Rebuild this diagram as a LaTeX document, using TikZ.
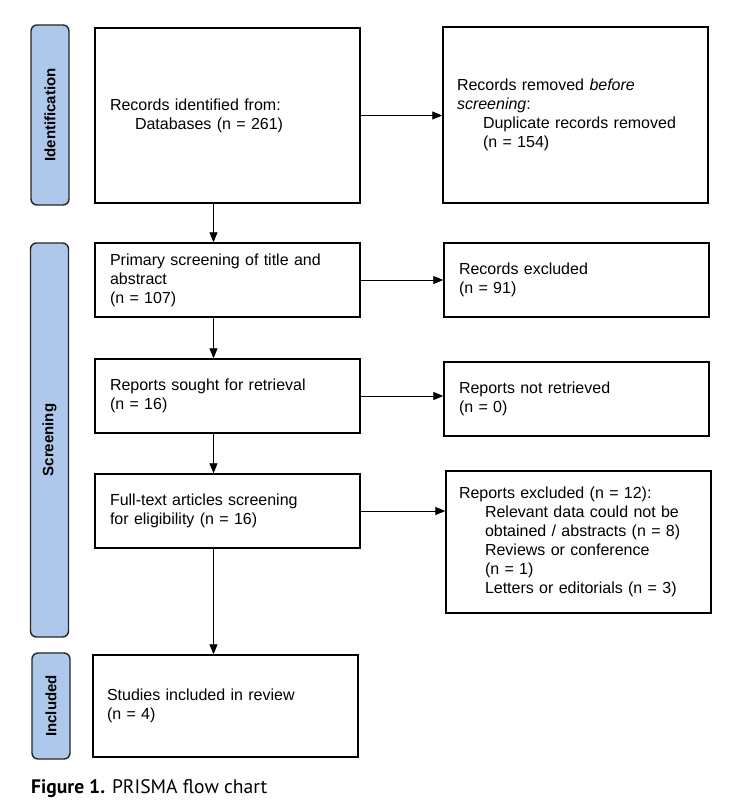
\documentclass[tikz,border=0pt]{standalone}
\usepackage{fontspec}
\setmainfont{Liberation Sans}
\newfontfamily\capfont{PT Sans}
\usetikzlibrary{arrows.meta}
\definecolor{barblue}{HTML}{AEC8EC}
\begin{document}
\begin{tikzpicture}[x=1pt,y=-1pt,
  box/.style={draw=black, line width=1.4pt, rectangle, inner xsep=15pt, inner ysep=0pt,
    minimum width=265pt, text width=235pt, align=left, font=\fontsize{16}{19}\selectfont},
  bar/.style={draw=black!85, line width=1.4pt, fill=barblue, rounded corners=6pt,
    minimum height=38pt, inner sep=0pt, rotate=90, font=\fontsize{15}{18}\selectfont\bfseries},
  arr/.style={-{Triangle[length=10pt,width=8pt]}, line width=0.8pt}]
\useasboundingbox (0,0) rectangle (739,800);
\fill[white] (0,0) rectangle (739,800);

% phase bars
\node[bar, minimum width=180pt] (pid) at (50,115) {Identification};
\node[bar, minimum width=394pt] (psc) at (49.5,440) {Screening};
\node[bar, minimum width=106pt] (pin) at (51,706) {Included};

% boxes
\node[box, minimum height=175pt] (b1) at (227.5,115.5)
  {Records identified from:\\\hspace*{25pt}Databases (n = 261)};
\node[box, minimum height=176pt, inner xsep=14pt, text width=237pt] (r1) at (575.5,115)
  {Records removed \textit{before}\\\textit{screening}:\\\hspace*{26pt}Duplicate records removed\\\hspace*{26pt}(n = 154)};

\node[box, minimum height=74pt] (b2) at (227.5,280)
  {Primary screening of title and\\abstract\\(n = 107)};
\node[box, minimum height=74pt] (r2) at (576.5,280)
  {Records excluded\\(n = 91)};

\node[box, minimum height=74pt] (b3) at (227.5,396)
  {Reports sought for retrieval\\(n = 16)};
\node[box, minimum height=74pt] (r3) at (576.5,399)
  {Reports not retrieved\\(n = 0)};

\node[box, minimum height=74pt] (b4) at (227.5,511)
  {Full-text articles screening\\for eligibility (n = 16)};
\node[box, minimum height=142pt, inner xsep=13pt, text width=239pt] (r4) at (578.5,542)
  {Reports excluded (n = 12):\\\hspace*{26pt}Relevant data could not be\\\hspace*{26pt}obtained / abstracts (n = 8)\\\hspace*{26pt}Reviews or conference\\\hspace*{26pt}(n = 1)\\\hspace*{26pt}Letters or editorials (n = 3)};

\node[box, minimum height=102pt, inner xsep=14pt, text width=237pt] (b5) at (225.5,706)
  {Studies included in review\\(n = 4)};

% connectors
\coordinate (cx) at (213.5,0);
\draw[arr] (b1.east) -- (b1.east -| r1.west);
\draw[arr] (b2.east) -- (b2.east -| r2.west);
\draw[arr] (b3.east) -- (b3.east -| r3.west);
\draw[arr] (b4.east) -- (b4.east -| r4.west);
\draw[arr] (b1.south -| cx) -- (b2.north -| cx);
\draw[arr] (b2.south -| cx) -- (b3.north -| cx);
\draw[arr] (b3.south -| cx) -- (b4.north -| cx);
\draw[arr] (b4.south -| cx) -- (b5.north -| cx);

% caption
\node[anchor=base west, inner sep=0pt] (cap) at (31,793)
  {\resizebox{236pt}{!}{\capfont\textbf{Figure 1.} PRISMA flow chart}};
\end{tikzpicture}
\end{document}
